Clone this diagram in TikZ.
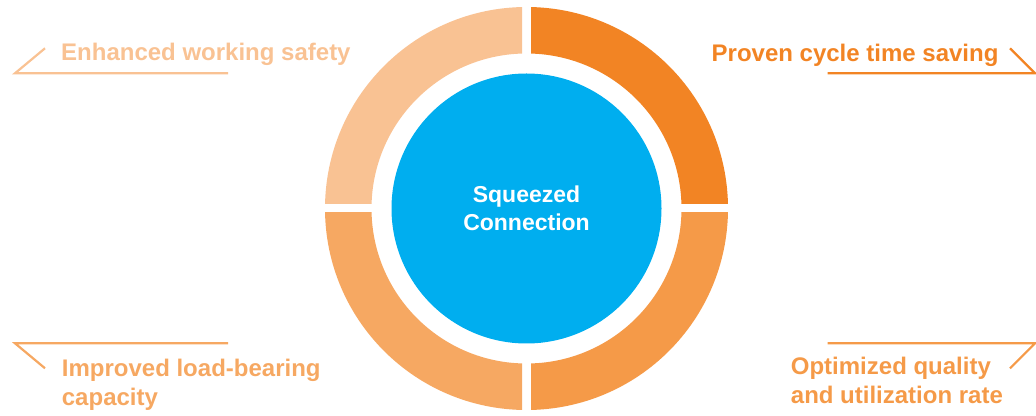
\documentclass[tikz,border=0pt]{standalone}
\usepackage{fontspec}
\setmainfont{Liberation Sans}
\definecolor{ringTL}{HTML}{F9C293}
\definecolor{ringTR}{HTML}{F28424}
\definecolor{ringBL}{HTML}{F6A862}
\definecolor{ringBR}{HTML}{F59A48}
\definecolor{coreblue}{HTML}{00AEEF}
\begin{document}
\begin{tikzpicture}[
    x=1pt, y=1pt,
    core/.style={circle, fill=coreblue, minimum size=270pt, inner sep=0pt, text=white, align=center, font=\bfseries\fontsize{23}{28}\selectfont},
    benefit/.style={inner sep=0pt, align=left, anchor=base west, font=\bfseries\fontsize{24}{28.5}\selectfont},
    tick/.style={line width=2.2pt}
  ]
    \useasboundingbox (0,0) rectangle (1036,415);

    % ring quarters
    \begin{scope}[shift={(526.5,206.5)}]
      \foreach \sx/\sy/\col in {1/1/ringTR, -1/1/ringTL, -1/-1/ringBL, 1/-1/ringBR} {
        \begin{scope}
          \clip (\sx*4.5,\sy*4.5) rectangle (\sx*210,\sy*210);
          \fill[\col, even odd rule] (0,0) circle (201.5) (0,0) circle (155);
        \end{scope}
      }
    \end{scope}

    \node[core] (squeeze) at (526.5,206.5) {Squeezed\\Connection};

    % labels (base = last line)
    \node[benefit, text=ringTL] (safety) at (61,354.3) {Enhanced working safety};
    \node[benefit, text=ringTR] (cycle) at (711.5,353.3) {Proven cycle time saving};
    \node[benefit, text=ringBL] (load) at (61.7,9.8) {Improved load-bearing\\capacity};
    \node[benefit, text=ringBR] (quality) at (790.7,11.5) {Optimized quality\\and utilization rate};

    \coordinate (tlA) at (45,366.7);
    \coordinate (tlB) at (15,341.7);
    \coordinate (tlC) at (228,341.7);
    \coordinate (trA) at (827.7,341.7);
    \coordinate (trB) at (1035,341.7);
    \coordinate (trC) at (1010,366.7);
    \coordinate (blA) at (45,46.7);
    \coordinate (blB) at (15,71.7);
    \coordinate (blC) at (228,71.7);
    \coordinate (brA) at (827.7,71.7);
    \coordinate (brB) at (1035,71.7);
    \coordinate (brC) at (1010,46.7);

    \draw[tick, ringTL] (tlA) -- (tlB) -- (tlC);
    \draw[tick, ringTR] (trA) -- (trB) -- (trC);
    \draw[tick, ringBL] (blA) -- (blB) -- (blC);
    \draw[tick, ringBR] (brA) -- (brB) -- (brC);
  \end{tikzpicture}
\end{document}
